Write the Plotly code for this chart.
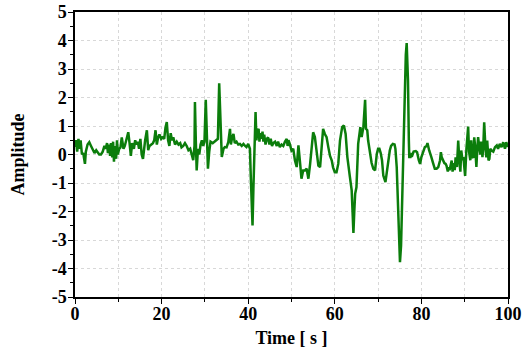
import plotly.graph_objects as go

time_s = [
    0.0, 0.2, 0.5, 0.8, 1.0, 1.3, 1.6, 1.9, 2.3, 2.5, 2.9, 3.3, 3.7, 4.1, 4.5, 4.9, 5.2, 5.6, 6.0, 6.4,
    6.8, 7.1, 7.4, 7.6, 7.9, 8.1, 8.3, 8.6, 8.8, 9.0, 9.2, 9.5, 9.7, 9.9, 10.2, 10.5, 10.8, 11.2, 11.5, 11.9,
    12.3, 12.6, 12.9, 13.2, 13.6, 13.9, 14.2, 14.5, 14.8, 15.1, 15.4, 15.7, 16.0, 16.2, 16.6, 16.9, 17.2, 17.6, 18.0, 18.3,
    18.6, 18.9, 19.2, 19.5, 19.9, 20.2, 20.6, 20.9, 21.2, 21.5, 21.8, 22.1, 22.4, 22.7, 23.1, 23.5, 23.9, 24.3, 24.6, 25.0,
    25.4, 25.8, 26.2, 26.6, 27.0, 27.3, 27.6, 27.7, 27.9, 28.1, 28.4, 28.7, 29.0, 29.3, 29.6, 29.9, 30.2, 30.5, 30.7, 31.0,
    31.3, 31.8, 32.3, 32.7, 33.0, 33.3, 33.9, 34.3, 34.6, 35.0, 35.4, 35.8, 36.0, 36.3, 36.6, 36.9, 37.3, 37.7, 38.1, 38.5,
    38.9, 39.3, 39.6, 40.0, 40.4, 40.6, 40.8, 41.0, 41.2, 41.4, 41.6, 41.7, 41.9, 42.1, 42.4, 42.6, 42.8, 43.1, 43.3, 43.5,
    43.7, 44.0, 44.3, 44.6, 44.9, 45.2, 45.5, 45.8, 46.2, 46.6, 46.9, 47.3, 47.7, 48.1, 48.5, 48.9, 49.1, 49.3, 49.6, 50.0,
    50.4, 50.8, 51.2, 51.6, 52.0, 52.3, 52.7, 53.1, 53.5, 53.9, 54.3, 54.7, 55.0, 55.4, 55.8, 56.2, 56.6, 57.0, 57.3, 57.7,
    58.1, 58.5, 58.9, 59.3, 59.6, 60.0, 60.4, 60.8, 61.2, 61.7, 62.1, 62.5, 62.9, 63.5, 63.9, 64.1, 64.3, 64.5, 64.7, 65.0,
    65.4, 65.9, 66.2, 66.6, 66.8, 67.0, 67.2, 67.5, 67.7, 68.1, 68.5, 68.9, 69.3, 69.7, 70.0, 70.3, 70.6, 70.9, 71.2, 71.7,
    72.1, 72.4, 72.7, 73.0, 73.4, 73.8, 74.0, 74.3, 74.7, 74.9, 75.05, 75.3, 75.4, 75.8, 76.1, 76.2, 76.4, 76.6, 76.8, 76.9,
    77.1, 77.2, 77.5, 77.7, 77.9, 78.2, 78.7, 79.0, 79.4, 79.7, 80.0, 80.5, 80.8, 81.2, 81.4, 81.8, 82.1, 82.3, 82.7, 83.1,
    83.5, 83.9, 84.3, 84.5, 84.7, 85.0, 85.3, 85.6, 85.8, 86.1, 86.3, 86.5, 86.8, 87.0, 87.2, 87.5, 87.7, 87.9, 88.2, 88.4,
    88.5, 88.8, 89.0, 89.2, 89.5, 89.7, 89.9, 90.1, 90.4, 90.6, 90.8, 91.0, 91.3, 91.5, 91.7, 92.0, 92.2, 92.4, 92.7, 92.9,
    93.1, 93.4, 93.6, 93.8, 94.1, 94.3, 94.5, 94.8, 95.0, 95.2, 95.5, 95.7, 95.9, 96.2, 96.6, 97.0, 97.4, 97.7, 98.1, 98.5,
    98.9, 99.3, 99.6, 100.0,
]

amplitude = [
    0.26, 0.5, 0.1, 0.55, 0.2, 0.5, 0.0, 0.05, -0.33, 0.1, 0.35, 0.43, 0.3, 0.15, 0.05, 0.15, 0.1, 0.0, 0.0, 0.1,
    0.3, 0.2, 0.4, 0.05, 0.35, -0.05, 0.4, -0.1, 0.45, -0.25, 0.3, -0.15, 0.5, 0.0, 0.2, 0.25, 0.6, 0.2, 0.3, 0.55,
    0.78, 0.4, -0.05, 0.4, 0.2, 0.5, 0.35, 0.45, 0.2, 0.55, 0.0, -0.15, 0.3, 0.5, 0.85, 0.15, 0.3, 0.35, 0.4, 0.5,
    0.85, 0.35, 0.6, 0.7, 0.55, 0.6, 0.55, 0.95, 1.14, 0.5, 0.3, 0.75, 0.5, 0.6, 0.35, 0.45, 0.35, 0.4, 0.25, 0.3,
    0.4, 0.3, 0.15, 0.2, 0.0, -0.2, 0.3, 1.84, 0.5, -0.56, 0.2, 0.0, 0.35, 0.5, 0.3, 0.45, 1.92, 0.3, -0.5, 0.1,
    0.45, 0.4, 0.45, 0.5, 0.55, 2.5, -0.09, 0.2, 0.26, 0.25, 0.43, 0.9, 0.35, 0.6, 0.72, 0.4, 0.45, 0.35, 0.37, 0.3,
    0.37, 0.3, 0.26, 0.37, 0.2, -0.8, -2.0, -2.49, -1.2, 0.3, 1.2, 1.49, 0.5, 0.8, 0.9, 0.45, 0.75, 0.55, 0.8, 0.45,
    0.7, 0.35, 0.55, 0.6, 0.35, 0.55, 0.3, 0.4, 0.45, 0.3, 0.45, 0.26, 0.35, 0.3, 0.45, 0.55, 0.3, 0.5, 0.37, 0.14,
    0.2, -0.21, -0.44, 0.32, -0.33, -0.85, -0.56, -0.56, -0.5, -0.85, -0.33, 0.49, 0.78, 0.61, 0.02, -0.39, -0.44, 0.37, 0.9, 0.72,
    0.61, 0.26, -0.05, -0.21, -0.45, -0.62, -0.62, -0.33, 0.49, 0.96, 1.02, 0.72, -0.09, -0.8, -1.26, -2.0, -2.75, -2.0, -1.38, -1.15,
    0.37, 0.96, 0.61, 0.96, 1.4, 1.92, 0.9, 0.85, 0.49, 0.02, -0.3, -0.5, -0.56, 0.02, 0.2, 0.2, 0.05, -0.2, -0.74, -0.97,
    -0.44, -0.1, 0.14, 0.3, 0.37, 0.35, 0.2, -0.44, -2.2, -3.3, -3.78, -3.2, -2.55, 0.14, 1.5, 2.48, 3.5, 3.91, 3.2, 2.6,
    0.5, -0.09, -0.09, 0.0, -0.03, 0.1, 0.12, 0.08, -0.2, -0.33, -0.09, 0.14, 0.26, 0.3, 0.4, 0.14, -0.05, -0.09, -0.3, -0.5,
    -0.5, -0.44, -0.21, 0.08, -0.1, -0.21, -0.3, -0.33, -0.39, -0.6, -0.45, -0.55, -0.35, -0.21, -0.6, -0.3, -0.55, -0.1, -0.44, 0.2,
    0.49, -0.3, -0.6, 0.14, -0.2, -0.09, -0.4, -0.75, 0.2, 0.5, 0.98, 0.1, -0.2, 0.5, -0.1, -0.09, 0.6, 0.3, -0.44, 0.2,
    0.61, 0.2, 0.0, 0.45, -0.09, 0.3, 1.13, 0.2, -0.1, 0.49, -0.21, -0.15, 0.2, 0.14, 0.1, 0.26, 0.32, 0.2, 0.37, 0.26,
    0.43, 0.2, 0.43, 0.26,
]

x_ticks = [0, 20, 40, 60, 80, 100]
y_ticks = [-5, -4, -3, -2, -1, 0, 1, 2, 3, 4, 5]

font_family = "Liberation Serif, Times New Roman, serif"

fig = go.Figure()
fig.add_trace(go.Scatter(
    x=time_s, y=amplitude, mode="lines",
    line=dict(color="#0b7d0b", width=2.5),
    showlegend=False, hoverinfo="skip",
))

fig.update_layout(
    width=524, height=354,
    margin=dict(l=75, r=16, t=12, b=57),
    paper_bgcolor="white", plot_bgcolor="white",
    font=dict(family=font_family, color="black"),
)

fig.update_xaxes(
    range=[0, 100], tickvals=x_ticks, ticktext=[f"<b>{v}</b>" for v in x_ticks],
    tickfont=dict(size=18, family=font_family),
    ticks="outside", ticklen=5, tickwidth=1.3, tickcolor="black",
    ticklabelstandoff=-5,
    showline=True, linecolor="black", linewidth=1.5, mirror=True,
    showgrid=True, gridcolor="#d8d8d8", griddash="dot", gridwidth=1,
    minor=dict(dtick=10, tick0=0, ticks="outside", ticklen=3, tickcolor="black",
               showgrid=True, gridcolor="#d8d8d8", griddash="dot"),
    zeroline=False, automargin=False,
    title=dict(text="<b>Time [ s ]</b>", font=dict(size=18, family=font_family), standoff=8),
)

fig.update_yaxes(
    range=[-5, 5], tickvals=y_ticks, ticktext=[f"<b>{v}</b>" for v in y_ticks],
    tickfont=dict(size=18, family=font_family),
    ticks="outside", ticklen=5, tickwidth=1.3, tickcolor="black",
    ticklabelstandoff=-2,
    showline=True, linecolor="black", linewidth=1.5, mirror=True,
    showgrid=True, gridcolor="#d8d8d8", griddash="dot", gridwidth=1,
    minor=dict(dtick=0.5, tick0=0, ticks="outside", ticklen=3, tickcolor="black", showgrid=False),
    zeroline=False, automargin=False,
    title=dict(text="<b>Amplitude</b>", font=dict(size=18, family=font_family), standoff=22),
)

fig.write_html("out.html")
